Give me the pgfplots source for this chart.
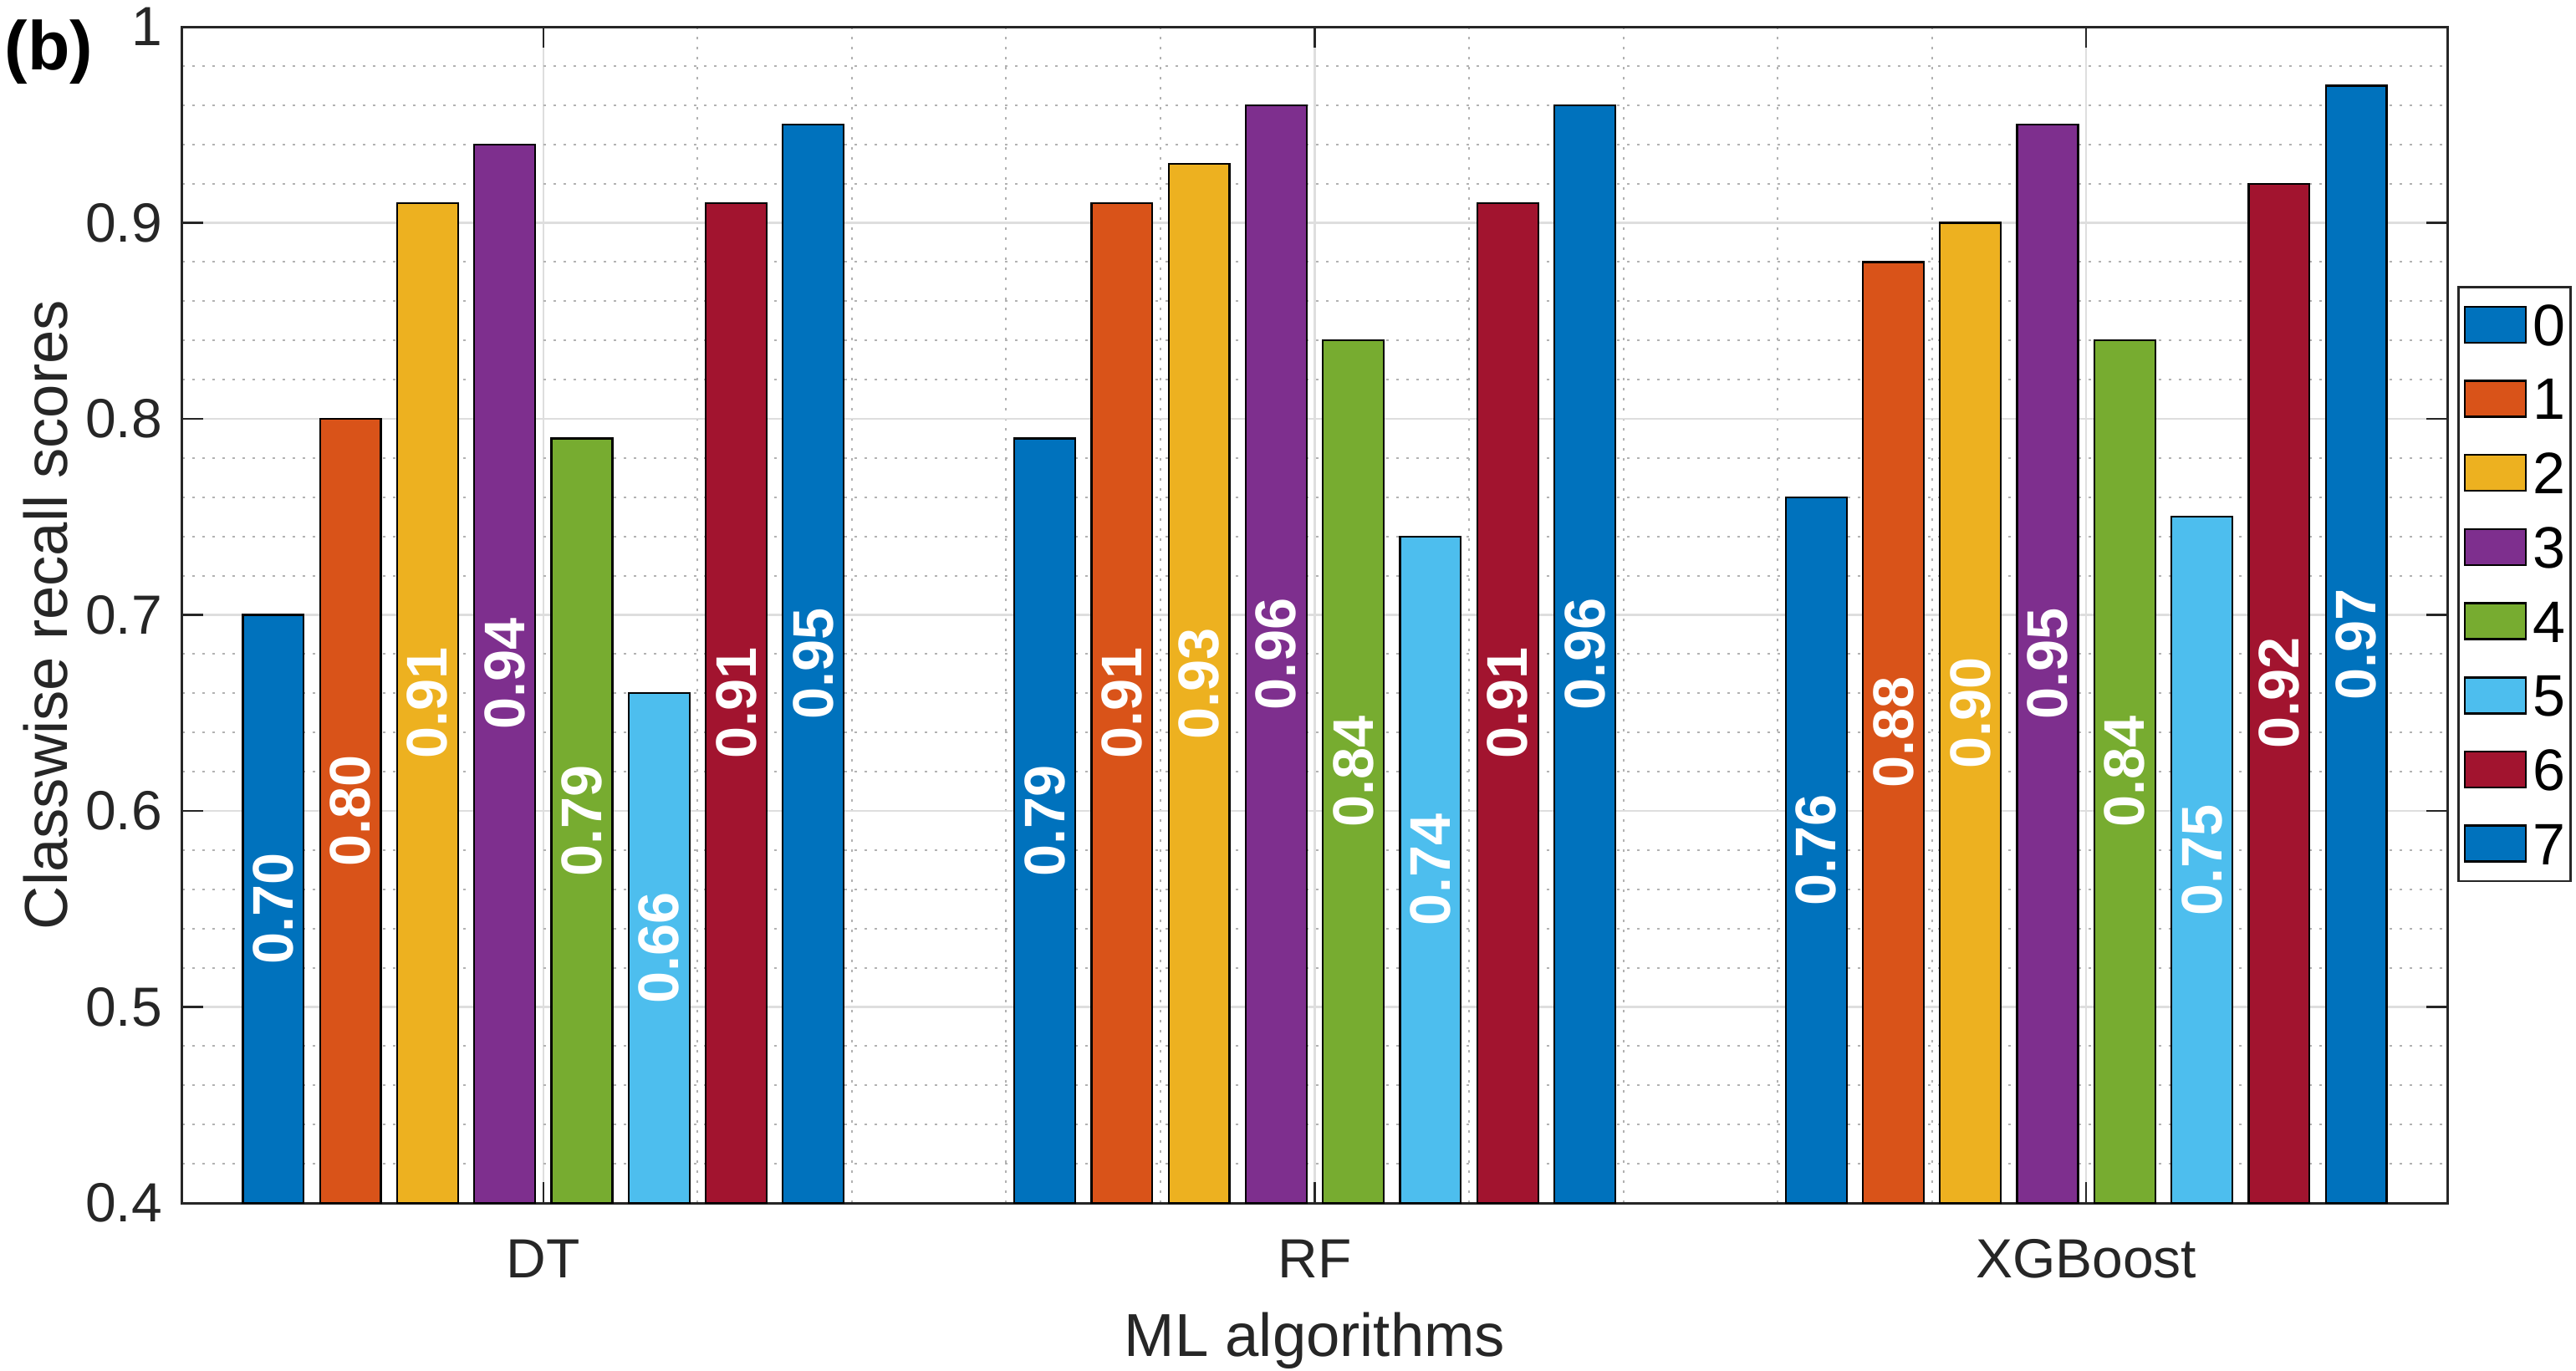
\documentclass[border=0pt]{standalone}
\usepackage{fontspec}
\setmainfont{Liberation Sans}
\usepackage{graphicx}
\usepackage{pgfplots}
\pgfplotsset{compat=1.18}
\definecolor{c0}{HTML}{0072BD}
\definecolor{c1}{HTML}{D95319}
\definecolor{c2}{HTML}{EDB120}
\definecolor{c3}{HTML}{7E2F8E}
\definecolor{c4}{HTML}{77AC30}
\definecolor{c5}{HTML}{4DBEEE}
\definecolor{c6}{HTML}{A2142F}
\definecolor{axgray}{HTML}{262626}
\pgfplotsset{barpos/.style={bar shift=#1, every node near coord/.append style={xshift={#1*184.54pt}}}}
\begin{document}
\begin{tikzpicture}
\useasboundingbox (-43.6pt,-40pt) rectangle (572.6pt,287.8pt);
\begin{axis}[
  scale only axis,
  width=541.8pt, height=281.4pt,
  xmin=0.532, xmax=3.468, ymin=0.4, ymax=1,
  xtick={1,2,3}, xticklabels={DT,RF,XGBoost},
  ytick={0.4,0.5,0.6,0.7,0.8,0.9,1},
  minor x tick num=4, minor y tick num=4,
  xmajorgrids, ymajorgrids, xminorgrids, yminorgrids,
  major grid style={color=black!13, line width=0.5pt},
  minor grid style={color=black!30, line width=0.4pt, dash pattern=on 0.6pt off 1.8pt},
  tick align=inside, xtick pos=both, ytick pos=both,
  major tick length=5pt, minor tick length=0pt,
  every tick/.style={color=axgray, line width=0.5pt},
  axis line style={color=axgray, line width=0.6pt},
  /pgf/number format/assume math mode=true,
  tick label style={font=\fontsize{13.2}{13.2}\selectfont, text=axgray},
  yticklabel style={anchor=east, inner sep=0pt, xshift=-4.6pt},
  xticklabel style={anchor=base, inner sep=0pt, yshift=-17.8pt},
  xlabel={ML algorithms}, ylabel={Classwise recall scores},
  label style={font=\fontsize{14.5}{14.5}\selectfont, text=axgray},
  xlabel style={at={(rel axis cs:0.5,0)}, anchor=base, inner sep=0pt, yshift=-36.6pt},
  ylabel style={at={(rel axis cs:0,0.5)}, anchor=center, inner sep=0pt, yshift=32.6pt},
  legend image code/.code={\draw[#1, line width=0.5pt, draw=black] (0pt,-4.3pt) rectangle (14.6pt,4.3pt);},
  legend style={at={(rel axis cs:1,1)}, anchor=north west, xshift=2.4pt, yshift=-62pt,
    draw=axgray, line width=0.5pt, inner xsep=1.3pt, inner ysep=4pt,
    row sep=7.74pt, column sep=1.4pt,
    font=\fontsize{14}{14}\selectfont,
    nodes={inner sep=0pt, text height=10pt, text depth=0pt}},
  legend cell align=left,
  every axis plot/.append style={ybar, bar width=0.079, draw=black, line width=0.45pt},
  visualization depends on={rawy \as \ry},
  nodes near coords={\rotatebox{90}{\pgfmathprintnumber[fixed,fixed zerofill,precision=2]{\pgfplotspointmeta}}},
  every node near coord/.append style={anchor=center, yshift={(0.4-\ry)*234.5pt},
    text=white, font=\bfseries\fontsize{13.7}{13.7}\selectfont, inner sep=0pt},
]
\addplot[fill=c0, barpos=-0.35] coordinates {(1,0.70) (2,0.79) (3,0.76)};
\addplot[fill=c1, barpos=-0.25] coordinates {(1,0.80) (2,0.91) (3,0.88)};
\addplot[fill=c2, barpos=-0.15] coordinates {(1,0.91) (2,0.93) (3,0.90)};
\addplot[fill=c3, barpos=-0.05] coordinates {(1,0.94) (2,0.96) (3,0.95)};
\addplot[fill=c4, barpos=0.05] coordinates {(1,0.79) (2,0.84) (3,0.84)};
\addplot[fill=c5, barpos=0.15] coordinates {(1,0.66) (2,0.74) (3,0.75)};
\addplot[fill=c6, barpos=0.25] coordinates {(1,0.91) (2,0.91) (3,0.92)};
\addplot[fill=c0, barpos=0.35] coordinates {(1,0.95) (2,0.96) (3,0.97)};
\legend{0,1,2,3,4,5,6,7}
\end{axis}
\node[anchor=base west, inner sep=0pt, font=\bfseries\fontsize{16.5}{16.5}\selectfont] at (-42.6pt,271.2pt) {(b)};
\end{tikzpicture}
\end{document}
